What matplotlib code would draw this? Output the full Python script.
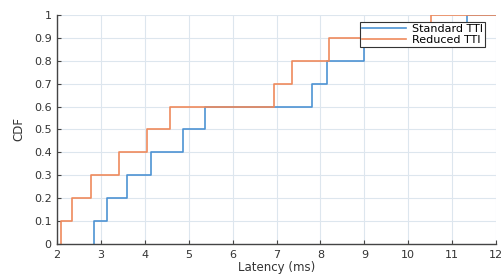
import matplotlib
matplotlib.use("Agg")
import matplotlib.pyplot as plt
import numpy as np

# latency samples (ms)
standard_tti = [2.85, 3.14, 3.59, 4.15, 4.87, 5.37, 7.81, 8.14, 8.99, 11.34]
reduced_tti = [2.09, 2.34, 2.78, 3.42, 4.04, 4.58, 6.94, 7.35, 8.19, 10.53]

x_ticks = list(range(2, 13))
y_ticks = [round(0.1 * i, 1) for i in range(11)]

blue = "#4d93d3"
orange = "#ef8a5c"


def ecdf(values):
    xs = np.sort(values)
    ys = np.arange(1, len(xs) + 1) / len(xs)
    xs = np.concatenate([[xs[0]], xs, [12.5]])
    ys = np.concatenate([[0], ys, [1]])
    return xs, ys


fig = plt.figure(figsize=(5.01, 2.77), dpi=100)
ax = fig.add_axes([0.114, 0.119, 0.876, 0.827])

for vals, col, lab in [(standard_tti, blue, "Standard TTI"),
                       (reduced_tti, orange, "Reduced TTI")]:
    xs, ys = ecdf(vals)
    ax.step(xs, ys, where="post", color=col, lw=1.2, label=lab)

ax.set_xlim(2, 12)
ax.set_ylim(0, 1)
ax.set_xticks(x_ticks)
ax.set_yticks(y_ticks)
ax.set_yticklabels([("%g" % v) for v in y_ticks])
ax.grid(True, color="#dde6ee", lw=0.8)
ax.set_axisbelow(True)

for s in ["top", "right"]:
    ax.spines[s].set_visible(False)
for s in ["left", "bottom"]:
    ax.spines[s].set_color("#444444")
    ax.spines[s].set_linewidth(1.0)

ax.tick_params(direction="in", length=3, width=0.8, colors="#444444",
               labelsize=8, labelcolor="#333333", pad=4)

ax.set_xlabel("Latency (ms)", fontsize=8.5, color="#333333", labelpad=1)
ax.set_ylabel("CDF", fontsize=8.5, color="#333333", labelpad=6)

leg = ax.legend(loc="upper right", bbox_to_anchor=(0.975, 0.97),
                fontsize=8, frameon=True, fancybox=False,
                handlelength=4.0, borderpad=0.2, labelspacing=0.05,
                handletextpad=0.5, borderaxespad=0)
leg.get_frame().set_edgecolor("#333333")
leg.get_frame().set_linewidth(0.8)
leg.get_frame().set_alpha(1.0)

fig.savefig("out.png", dpi=100)
